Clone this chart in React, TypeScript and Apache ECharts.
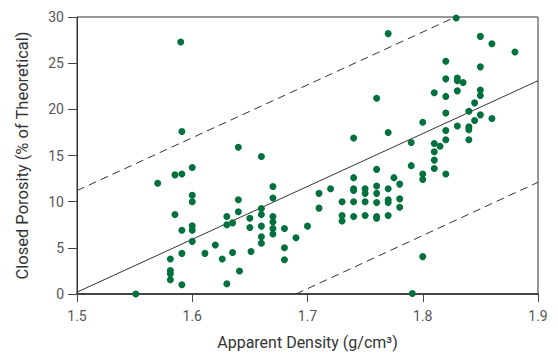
import React, { useEffect, useRef } from "react";
import * as echarts from "echarts";

const xTicks = [1.5, 1.6, 1.7, 1.8, 1.9];
const yTicks = [0, 5, 10, 15, 20, 25, 30];

const density = [
  1.590, 1.591, 1.640, 1.829, 1.770, 1.850, 1.860, 1.880, 1.820, 1.850,
  1.820, 1.830, 1.830, 1.835, 1.810, 1.820, 1.830, 1.850, 1.850, 1.760,
  1.845, 1.840, 1.820, 1.850, 1.860, 1.845, 1.800, 1.830, 1.840, 1.840,
  1.820, 1.770, 1.740, 1.790, 1.810, 1.820, 1.840, 1.815, 1.810,
  1.810, 1.790, 1.810, 1.820, 1.800, 1.800, 1.760, 1.775, 1.740, 1.780,
  1.740, 1.740, 1.750, 1.750, 1.760, 1.760, 1.770, 1.720, 1.710, 1.710,
  1.730, 1.740, 1.750, 1.760, 1.770, 1.770, 1.780, 1.780, 1.730, 1.730,
  1.740, 1.750, 1.760, 1.760, 1.770, 1.700, 1.800, 1.791,
  1.660, 1.570, 1.585, 1.591, 1.600, 1.600, 1.600, 1.585, 1.591, 1.600,
  1.600, 1.600, 1.591, 1.581, 1.581, 1.581, 1.581, 1.591, 1.551, 1.611,
  1.620, 1.626, 1.630, 1.630, 1.630, 1.635, 1.635, 1.641, 1.640, 1.640,
  1.650, 1.650, 1.651, 1.660, 1.660, 1.660, 1.660, 1.660, 1.670, 1.670,
  1.670, 1.670, 1.670, 1.670, 1.680, 1.680, 1.680, 1.690,
];

const porosity = [
  27.3, 17.6, 15.9, 29.9, 28.2, 27.9, 27.1, 26.2, 25.2, 24.6,
  23.3, 23.4, 23.1, 22.9, 21.8, 21.4, 22.0, 22.1, 21.5, 21.2,
  20.7, 19.8, 19.6, 19.4, 19.0, 18.8, 18.6, 18.2, 18.1, 17.8,
  17.7, 17.5, 16.9, 16.4, 16.3, 16.7, 16.7, 16.0, 15.4,
  14.5, 13.9, 13.6, 13.0, 13.0, 12.4, 13.5, 12.6, 12.6, 11.9,
  11.4, 11.2, 11.4, 10.9, 11.7, 10.9, 11.4, 11.4, 10.9, 9.3,
  10.0, 10.0, 10.0, 9.9, 10.2, 9.9, 10.3, 9.4, 8.5, 7.9,
  8.4, 8.5, 8.4, 8.2, 8.5, 7.35, 4.05, 0.05,
  14.9, 12.0, 12.9, 13.0, 13.7, 10.7, 10.0, 8.6, 6.9, 7.4,
  6.9, 5.7, 4.4, 3.8, 2.55, 2.2, 1.55, 1.0, 0.0, 4.4,
  5.3, 3.8, 1.1, 7.5, 8.4, 7.7, 4.5, 2.5, 10.2, 8.9,
  8.2, 7.2, 4.6, 9.25, 8.6, 7.35, 6.2, 5.5, 11.65, 10.4,
  8.4, 7.8, 7.1, 6.5, 7.1, 5.0, 3.7, 6.1,
];

const fitLine = [[1.5, 0.2], [1.9, 23.1]];
const upperLine = [[1.5, 11.2], [1.8284, 30]];
const lowerLine = [[1.69, 0], [1.9, 12.1]];

const FONT = "Roboto";

export default function App() {
  const ref = useRef<HTMLDivElement>(null);
  useEffect(() => {
    if (!ref.current) return;
    const chart = echarts.init(ref.current, undefined, { renderer: "svg" });
    const points = density.map((d, i) => [d, porosity[i]]);
    const lineStyleBase = { color: "#333", width: 1 };
    chart.setOption({
      animation: false,
      grid: {
        left: 77,
        right: 20,
        top: 17,
        bottom: 59,
        show: true,
        borderColor: "#333",
        borderWidth: 1,
        backgroundColor: "transparent",
      },
      xAxis: {
        type: "value",
        min: xTicks[0],
        max: xTicks[xTicks.length - 1],
        interval: 0.1,
        splitLine: { show: false },
        axisLine: { show: true, onZero: false, lineStyle: { color: "#444", width: 2 } },
        axisTick: { show: true, length: 8, lineStyle: { color: "#444", width: 1 } },
        axisLabel: {
          color: "#555",
          fontFamily: FONT,
          fontSize: 14,
          margin: 15,
          formatter: (v: number) => v.toFixed(1),
        },
        name: "Apparent Density (g/cm³)",
        nameLocation: "middle",
        nameGap: 40,
        nameTextStyle: { color: "#333", fontFamily: FONT, fontSize: 16 },
      },
      yAxis: {
        type: "value",
        min: yTicks[0],
        max: yTicks[yTicks.length - 1],
        interval: 5,
        splitLine: { show: false },
        axisLine: { show: true, onZero: false, lineStyle: { color: "#333", width: 1 } },
        axisTick: { show: true, length: 9, lineStyle: { color: "#444", width: 1 } },
        axisLabel: { color: "#555", fontFamily: FONT, fontSize: 14, margin: 13 },
        name: "Closed Porosity (% of Theoretical)",
        nameLocation: "middle",
        nameGap: 46,
        nameTextStyle: { color: "#333", fontFamily: FONT, fontSize: 16.5 },
      },
      series: [
        {
          type: "line",
          data: upperLine,
          symbol: "none",
          lineStyle: { ...lineStyleBase, type: [8, 5] },
          silent: true,
          z: 1,
        },
        {
          type: "line",
          data: lowerLine,
          symbol: "none",
          lineStyle: { ...lineStyleBase, type: [8, 5] },
          silent: true,
          z: 1,
        },
        {
          type: "line",
          data: fitLine,
          symbol: "none",
          lineStyle: { ...lineStyleBase },
          silent: true,
          z: 1,
        },
        {
          type: "scatter",
          data: points,
          symbolSize: 7,
          itemStyle: { color: "#00703C", opacity: 1 },
          clip: false,
          z: 3,
        },
      ],
    });
    return () => chart.dispose();
  }, []);
  return (
    <div
      ref={ref}
      style={{ position: "absolute", left: 0, top: 0, width: 558, height: 355 }}
    />
  );
}
